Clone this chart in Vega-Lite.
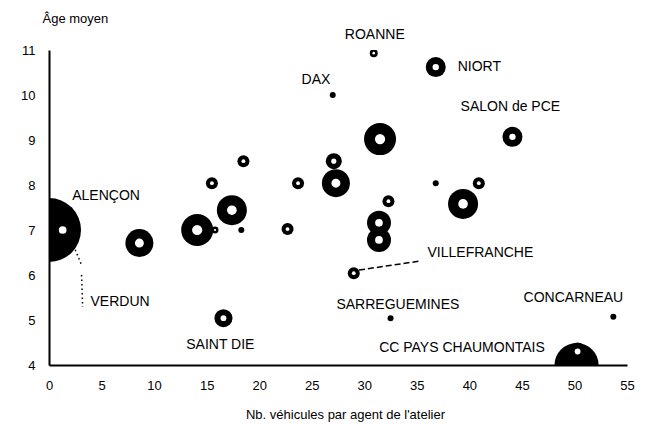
{
  "$schema": "https://vega.github.io/schema/vega-lite/v6.json",
  "width": 578,
  "height": 315,
  "autosize": {"type": "none"},
  "padding": {"left": 49, "top": 50, "right": 20, "bottom": 60},
  "background": "white",
  "config": {"view": {"stroke": null}, "font": "Liberation Sans"},
  "datasets": {
    "points": [
      {"nom": "ALENÇON", "x": 0.0, "y": 7.0, "n": 1024},
      {"nom": "VERDUN", "x": 1.3, "y": 7.0, "n": 144},
      {"nom": "", "x": 8.6, "y": 6.71, "n": 196},
      {"nom": "", "x": 14.1, "y": 7.0, "n": 256},
      {"nom": "", "x": 15.8, "y": 7.0, "n": 12},
      {"nom": "", "x": 17.4, "y": 7.44, "n": 225},
      {"nom": "", "x": 18.3, "y": 7.0, "n": 9},
      {"nom": "", "x": 15.5, "y": 8.04, "n": 36},
      {"nom": "", "x": 18.5, "y": 8.53, "n": 36},
      {"nom": "", "x": 22.7, "y": 7.02, "n": 36},
      {"nom": "", "x": 23.7, "y": 8.04, "n": 36},
      {"nom": "", "x": 27.1, "y": 8.53, "n": 64},
      {"nom": "", "x": 27.3, "y": 8.04, "n": 196},
      {"nom": "", "x": 31.5, "y": 9.02, "n": 256},
      {"nom": "", "x": 32.3, "y": 7.64, "n": 36},
      {"nom": "", "x": 31.4, "y": 7.16, "n": 144},
      {"nom": "", "x": 31.4, "y": 6.78, "n": 144},
      {"nom": "VILLEFRANCHE", "x": 29.0, "y": 6.04, "n": 36},
      {"nom": "SARREGUEMINES", "x": 32.5, "y": 5.04, "n": 9},
      {"nom": "SAINT DIE", "x": 16.6, "y": 5.04, "n": 81},
      {"nom": "DAX", "x": 27.0, "y": 10.0, "n": 9},
      {"nom": "ROANNE", "x": 30.9, "y": 10.93, "n": 16},
      {"nom": "NIORT", "x": 36.8, "y": 10.62, "n": 100},
      {"nom": "SALON de PCE", "x": 44.1, "y": 9.07, "n": 100},
      {"nom": "", "x": 36.8, "y": 8.04, "n": 9},
      {"nom": "", "x": 40.9, "y": 8.04, "n": 36},
      {"nom": "", "x": 39.4, "y": 7.58, "n": 225},
      {"nom": "CONCARNEAU", "x": 53.7, "y": 5.07, "n": 9},
      {"nom": "CC PAYS CHAUMONTAIS", "x": 50.2, "y": 4.0, "n": 484},
      {"nom": "", "x": 50.3, "y": 4.3, "n": 81}
    ],
    "labels": [
      {"nom": "ALENÇON", "x": 5.43, "y": 7.76},
      {"nom": "VERDUN", "x": 6.76, "y": 5.4},
      {"nom": "SAINT DIE", "x": 16.3, "y": 4.44},
      {"nom": "DAX", "x": 25.4, "y": 10.33},
      {"nom": "ROANNE", "x": 31.0, "y": 11.33},
      {"nom": "NIORT", "x": 40.95, "y": 10.62},
      {"nom": "SALON de PCE", "x": 43.9, "y": 9.73},
      {"nom": "VILLEFRANCHE", "x": 41.05, "y": 6.49},
      {"nom": "SARREGUEMINES", "x": 33.2, "y": 5.33},
      {"nom": "CONCARNEAU", "x": 49.9, "y": 5.49},
      {"nom": "CC PAYS CHAUMONTAIS", "x": 39.3, "y": 4.38}
    ],
    "pointille": [
      {"x": 2.5, "y": 6.56, "x2": 3.1, "y2": 6.22},
      {"x": 3.1, "y": 6.0, "x2": 3.2, "y2": 5.29}
    ],
    "tirets": [
      {"x": 29.5, "y": 6.11, "x2": 35.3, "y2": 6.31}
    ]
  },
  "encoding": {
    "x": {
      "field": "x",
      "type": "quantitative",
      "scale": {"domain": [0, 55], "nice": false, "zero": false},
      "axis": {
        "values": [0, 5, 10, 15, 20, 25, 30, 35, 40, 45, 50, 55],
        "grid": false,
        "ticks": false,
        "domainColor": "black",
        "domainWidth": 2,
        "labelColor": "black",
        "labelFontSize": 13,
        "labelPadding": 14,
        "labelFlush": false,
        "title": "Nb. véhicules par agent de l'atelier",
        "titleFontSize": 13,
        "titleFontWeight": "normal",
        "titleColor": "black",
        "titleX": 296,
        "titleY": 49,
        "titleBaseline": "middle"
      }
    },
    "y": {
      "field": "y",
      "type": "quantitative",
      "scale": {"domain": [4, 11], "nice": false, "zero": false},
      "axis": {
        "values": [4, 5, 6, 7, 8, 9, 10, 11],
        "grid": false,
        "ticks": false,
        "domainColor": "black",
        "domainWidth": 2,
        "labelColor": "black",
        "labelFontSize": 13,
        "labelPadding": 14,
        "labelFlush": false,
        "title": "Âge moyen",
        "titleFontSize": 13,
        "titleFontWeight": "normal",
        "titleColor": "black",
        "titleAngle": 0,
        "titleAlign": "left",
        "titleBaseline": "middle",
        "titleX": -7,
        "titleY": -32
      }
    }
  },
  "layer": [
    {
      "data": {"name": "pointille"},
      "mark": {"type": "rule", "color": "black", "strokeWidth": 1.5, "strokeDash": [1.5, 3]},
      "encoding": {"x2": {"field": "x2"}, "y2": {"field": "y2"}}
    },
    {
      "data": {"name": "tirets"},
      "mark": {"type": "rule", "color": "black", "strokeWidth": 1.5, "strokeDash": [6, 3]},
      "encoding": {"x2": {"field": "x2"}, "y2": {"field": "y2"}}
    },
    {
      "data": {"name": "points"},
      "mark": {"type": "circle", "color": "black", "opacity": 1, "clip": true},
      "encoding": {
        "size": {
          "field": "n",
          "type": "quantitative",
          "scale": {"domain": [0, 1024], "range": [0, 4096]},
          "legend": null
        }
      }
    },
    {
      "data": {"name": "points"},
      "transform": [{"filter": "datum.n >= 12 && datum.n < 400"}],
      "mark": {"type": "circle", "color": "white", "opacity": 1, "clip": true},
      "encoding": {
        "size": {
          "field": "n",
          "type": "quantitative",
          "scale": {"domain": [0, 1024], "range": [0, 420]},
          "legend": null
        }
      }
    },
    {
      "data": {"name": "labels"},
      "mark": {"type": "text", "fontSize": 14, "align": "center", "baseline": "middle", "color": "black"},
      "encoding": {"text": {"field": "nom"}}
    }
  ],
  "resolve": {"scale": {"size": "independent"}}
}
